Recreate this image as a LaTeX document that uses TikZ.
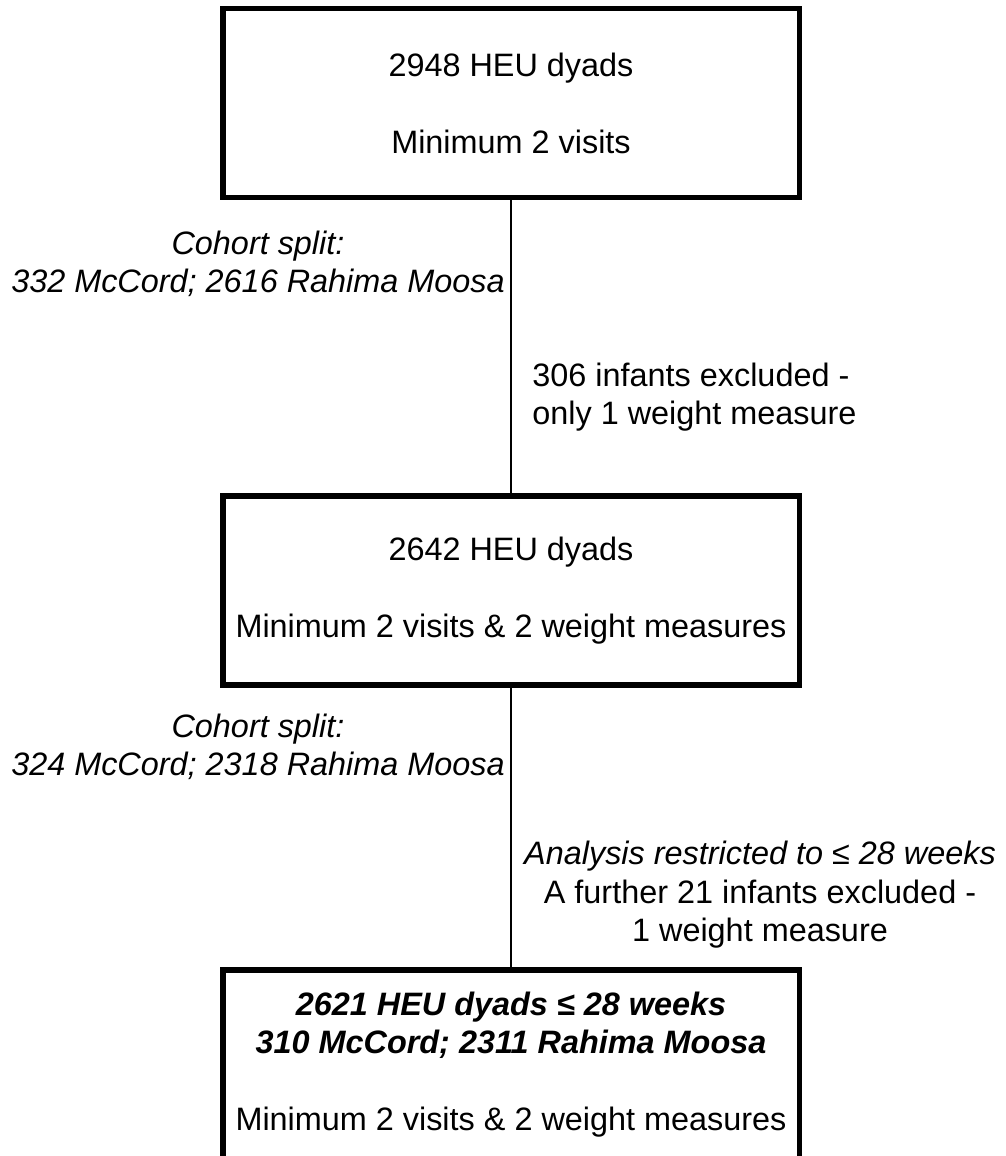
\documentclass[tikz,border=0pt]{standalone}
\usepackage{fontspec}
\setmainfont{Liberation Sans}
\usepackage{tikz}

\begin{document}
\begin{tikzpicture}[x=0.5pt,y=-0.5pt,
  font=\fontsize{16.2}{19.25}\selectfont,
  box/.style={draw,line width=2.75pt,minimum width=288.25pt,minimum height=94.5pt,align=center,inner sep=0pt},
  note/.style={inner sep=0pt,align=center},
  link/.style={line width=1pt}]
\useasboundingbox (0,0) rectangle (1006,1156);

\node[box] (start) at (511,103) {2948 HEU dyads\\[19.25pt]Minimum 2 visits};
\node[box] (weights) at (511,590.5) {2642 HEU dyads\\[19.25pt]Minimum 2 visits \& 2 weight measures};
\node[box] (final) at (511,1064.5) {\textbf{\textit{2621 HEU dyads ≤ 28 weeks}}\\\textbf{\textit{310 McCord; 2311 Rahima Moosa}}\\[19.25pt]Minimum 2 visits \& 2 weight measures};

\node[note,font=\fontsize{16.2}{19.25}\selectfont\itshape] (split1) at (258,264) {Cohort split:\\332 McCord; 2616 Rahima Moosa};
\node[note,align=left,anchor=west] (excl1) at (532,397) {306 infants excluded -\\only 1 weight measure};
\node[note,font=\fontsize{16.2}{19.25}\selectfont\itshape] (split2) at (258,747) {Cohort split:\\324 McCord; 2318 Rahima Moosa};
\node[note] (excl2) at (760,895) {\textit{Analysis restricted to ≤ 28 weeks}\\A further 21 infants excluded -\\1 weight measure};

% connecting lines between the boxes
\draw[link] (start) -- (weights);
\draw[link] (weights) -- (final);
\end{tikzpicture}
\end{document}
